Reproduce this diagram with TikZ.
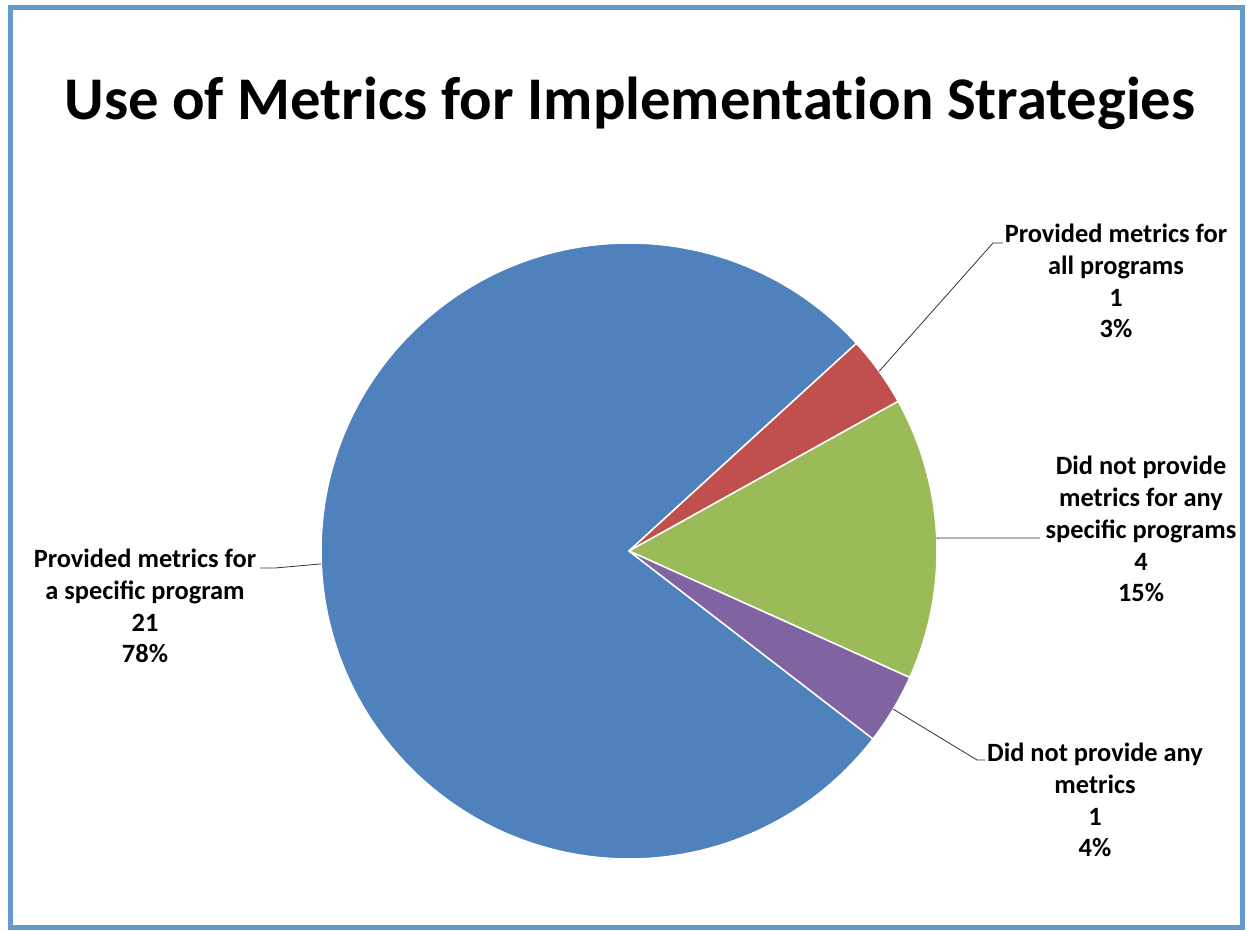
\documentclass[tikz,border=0pt]{standalone}
\usepackage{fontspec}
\usetikzlibrary{calc}
\setmainfont{Carlito}
\definecolor{frameblue}{RGB}{102,153,204}
\definecolor{sliceblue}{RGB}{79,129,189}
\definecolor{slicered}{RGB}{192,80,77}
\definecolor{slicegreen}{RGB}{155,187,89}
\definecolor{slicepurple}{RGB}{128,100,162}
\begin{document}
\begin{tikzpicture}[x=1pt,y=1pt,
  slice/.style={draw=white,line width=1.5pt,line join=round},
  lbl/.style={font=\fontsize{26.4}{31.8}\selectfont\bfseries,align=center,inner sep=0pt,anchor=base},
  leader/.style={draw=black!80,line width=0.8pt}]
\useasboundingbox (0,0) rectangle (1247,931);
\fill[white] (0,0) rectangle (1247,931);
\draw[frameblue,line width=5pt] (10,3) rectangle (1242,923);
\node[font=\fontsize{60.6}{70}\selectfont\bfseries,inner sep=0pt,anchor=base] (title) at (630,811) {Use of Metrics for Implementat\kern0pt ion Strategies};
\coordinate (c) at (629,380);
\def\R{308}
% slices
\fill[sliceblue,slice] (c) -- ++(42.4:\R) arc[start angle=42.4,end angle=322.4,radius=\R] -- cycle;
\fill[slicered,slice] (c) -- ++(29.07:\R) arc[start angle=29.07,end angle=42.4,radius=\R] -- cycle;
\fill[slicegreen,slice] (c) -- ++(-24.26:\R) arc[start angle=-24.26,end angle=29.07,radius=\R] -- cycle;
\fill[slicepurple,slice] (c) -- ++(-37.6:\R) arc[start angle=-37.6,end angle=-24.26,radius=\R] -- cycle;
% labels (base = baseline of last line)
\node[lbl] (l1) at (1116,593) {Provided metrics for\\all programs\\1\\3\%};
\node[lbl] (l2) at (1141,329) {Did not provide\\metrics for any\\specific programs\\4\\15\%};
\node[lbl] (l3) at (1095,74) {Did not provide any\\metrics\\1\\4\%};
\node[lbl] (l4) at (145,268) {Provided metrics for\\a specific program\\21\\78\%};
% leader points
\coordinate (p1) at ($(c)+(35.7:\R)$);
\coordinate (p2) at ($(c)+(2.4:\R)$);
\coordinate (p3) at ($(c)+(-30.9:\R)$);
\coordinate (p4) at ($(c)+(182.4:\R)$);
\coordinate (e1) at (993,688);
\coordinate (f1) at (1003,688);
\coordinate (e2) at (1040,393);
\coordinate (e3) at (977,171);
\coordinate (f3) at (985,171);
\coordinate (e4) at (275,363);
\coordinate (f4) at (260,363);
\draw[leader] (p1) -- (e1) -- (f1);
\draw[leader] (p2) -- (e2);
\draw[leader] (p3) -- (e3) -- (f3);
\draw[leader] (p4) -- (e4) -- (f4);
\end{tikzpicture}
\end{document}
